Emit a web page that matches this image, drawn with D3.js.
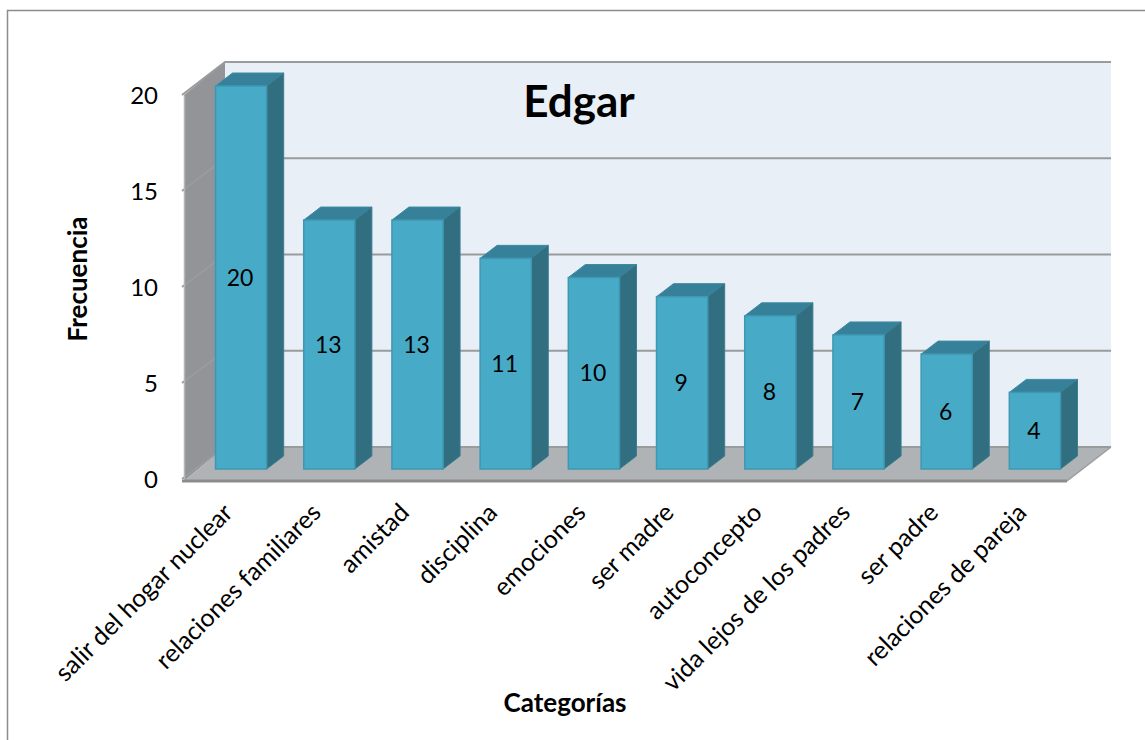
<!DOCTYPE html>
<html>
<head>
<meta charset="utf-8">
<script src="https://cdn.jsdelivr.net/npm/d3@7"></script>
<style>
html, body { margin: 0; padding: 0; background: #fff; }
svg { display: block; }
text { font-family: Lato, "Open Sans", sans-serif; fill: #000; }
</style>
</head>
<body>
<div id="chart"></div>
<script>
const categories = [
	"salir del hogar nuclear",
	"relaciones familiares",
	"amistad",
	"disciplina",
	"emociones",
	"ser madre",
	"autoconcepto",
	"vida lejos de los padres",
	"ser padre",
	"relaciones de pareja",
];
const frecuencia = [20, 13, 13, 11, 10, 9, 8, 7, 6, 4];
const yTicks = [0, 5, 10, 15, 20];
const chartTitle = "Edgar";
const xTitle = "Categorías";
const yTitle = "Frecuencia";

const width = 1145;
const height = 740;

const svg = d3.select("#chart").append("svg").attr("width", width).attr("height", height);

// outer frame, only top and left show in the picture
svg.append("path")
	.attr("d", "M7.5,740V10.5H1145")
	.attr("fill", "none")
	.attr("stroke", "#8c8c8c")
	.attr("stroke-width", 1.5);

// front plane of the 3d box
const x = d3.scaleBand().domain(categories).range([197, 1079]).paddingInner(0.42).paddingOuter(0.21);
const y = d3.scaleLinear().domain([0, 20]).range([479, 95]);
// bars sit a bit behind the front plane, the back wall further still
const yBar = d3.scaleLinear().domain([0, 20]).range([469, 86]);
const yBack = d3.scaleLinear().domain([0, 20]).range([447, 62]);

const wallLeft = 225;
const wallRight = 1111;
const frontLeft = 184;
const frontRight = 1067;
const barDx = 17;
const barDy = 13;

// back wall
svg.append("rect")
	.attr("x", wallLeft)
	.attr("y", yBack(20))
	.attr("width", wallRight - wallLeft)
	.attr("height", yBack(0) - yBack(20))
	.attr("fill", "#e8eff6");

// left wall
svg.append("path")
	.attr("d", `M${frontLeft},${y(0) + 2}L${frontLeft},${y(20)}L${wallLeft},${yBack(20)}L${wallLeft},${yBack(0)}Z`)
	.attr("fill", "#929497");

// floor
svg.append("path")
	.attr("d", `M${frontLeft},${y(0) + 2}L${wallLeft},${yBack(0)}L${wallRight},${yBack(0)}L${frontRight},${y(0) + 2}Z`)
	.attr("fill", "#b0b3b6");

// gridlines, back wall then down the left wall
svg.append("g")
	.selectAll("path")
	.data(yTicks)
	.join("path")
	.attr("d", d => `M${frontLeft - 2},${y(d)}L${wallLeft},${yBack(d)}L${wallRight},${yBack(d)}`)
	.attr("fill", "none")
	.attr("stroke", "#999b9d")
	.attr("stroke-width", 2);

// floor front edge and axis line
svg.append("line")
	.attr("x1", frontLeft - 2)
	.attr("x2", frontRight)
	.attr("y1", y(0) + 2)
	.attr("y2", y(0) + 2)
	.attr("stroke", "#8a8c8e")
	.attr("stroke-width", 3);
svg.append("line")
	.attr("x1", frontRight)
	.attr("x2", wallRight)
	.attr("y1", y(0) + 2)
	.attr("y2", yBack(0))
	.attr("stroke", "#9a9c9e")
	.attr("stroke-width", 1.5);

// y axis line is on the front edge of the left wall
const yAxis = d3.axisLeft(y).tickValues(yTicks).tickSize(0).tickPadding(26);
const yAxisGroup = svg.append("g").attr("transform", `translate(${frontLeft},0)`).call(yAxis);
yAxisGroup.select(".domain").attr("stroke", "#b5b6b8").attr("stroke-width", 1.5);
yAxisGroup.selectAll("text").style("font-size", "24px").attr("dy", "0.35em").attr("fill", "#000");

// bars
const bars = svg.append("g").selectAll("g").data(categories).join("g");
const val = (_, i) => frecuencia[i];

bars.append("path")
	.attr("d", (d, i) => {
		const l = x(d), r = l + x.bandwidth(), t = yBar(frecuencia[i]);
		return `M${l},${t}L${l + barDx},${t - barDy}L${r + barDx},${t - barDy}L${r},${t}Z`;
	})
	.attr("fill", "#368099")
	.attr("stroke", "#3f8ba4")
	.attr("stroke-width", 1);

bars.append("path")
	.attr("d", (d, i) => {
		const r = x(d) + x.bandwidth(), t = yBar(frecuencia[i]), b = yBar(0);
		return `M${r},${t}L${r + barDx},${t - barDy}L${r + barDx},${b - barDy}L${r},${b}Z`;
	})
	.attr("fill", "#316e80")
	.attr("stroke", "#3a7d91")
	.attr("stroke-width", 1);

bars.append("rect")
	.attr("x", d => x(d))
	.attr("y", (d, i) => yBar(frecuencia[i]))
	.attr("width", x.bandwidth())
	.attr("height", (d, i) => yBar(0) - yBar(frecuencia[i]))
	.attr("fill", "#47abc8")
	.attr("stroke", "#3f97b2")
	.attr("stroke-width", 1.5);

// value labels in the middle of each bar front
bars.append("text")
	.attr("x", d => x(d) + x.bandwidth() / 2 - 1)
	.attr("y", (d, i) => (yBar(0) + yBar(frecuencia[i])) / 2)
	.attr("dy", "0.35em")
	.attr("text-anchor", "middle")
	.style("font-size", "23px")
	.text(val);

// category labels at -45
svg.append("g")
	.selectAll("text")
	.data(categories)
	.join("text")
	.attr("text-anchor", "end")
	.attr("transform", d => `translate(${x(d) + x.bandwidth() / 2 - 13},${508}) rotate(-45)`)
	.attr("dy", "0.35em")
	.style("font-size", "25px")
	.text(d => d);

// titles
svg.append("text")
	.attr("x", 579)
	.attr("y", 117)
	.attr("text-anchor", "middle")
	.style("font-size", "44px")
	.style("font-weight", "700")
	.text(chartTitle);

svg.append("text")
	.attr("x", 565)
	.attr("y", 712)
	.attr("text-anchor", "middle")
	.style("font-size", "26px")
	.style("font-weight", "700")
	.text(xTitle);

svg.append("text")
	.attr("transform", "translate(87,279) rotate(-90)")
	.attr("text-anchor", "middle")
	.style("font-size", "26px")
	.style("font-weight", "700")
	.text(yTitle);
</script>
</body>
</html>
